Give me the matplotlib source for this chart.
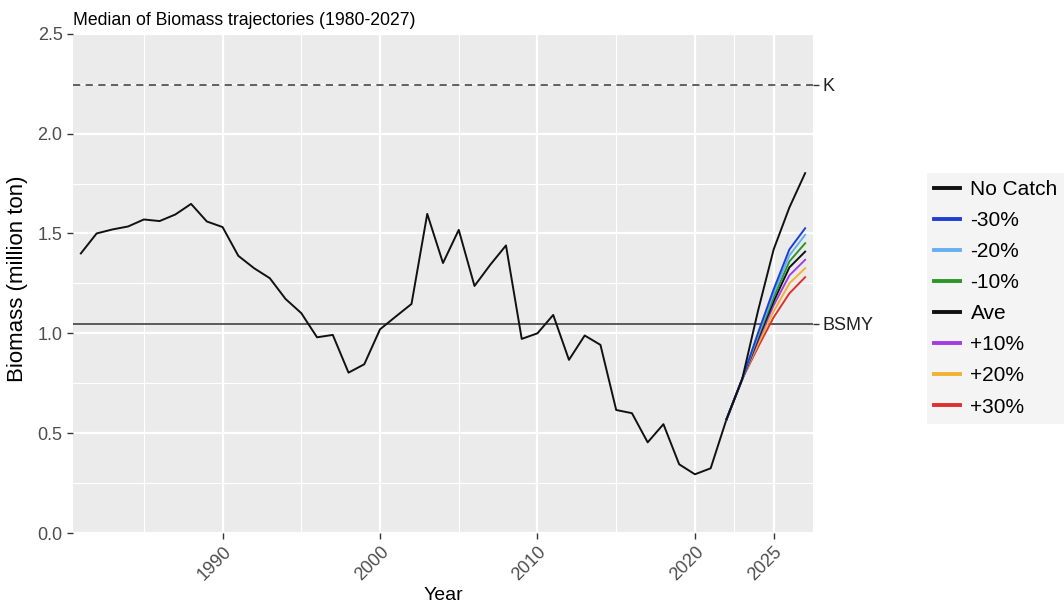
import matplotlib
matplotlib.use("Agg")
import matplotlib.pyplot as plt

plt.rcParams['font.family'] = ['Liberation Sans', 'DejaVu Sans']

# historical median biomass (million ton)
years_hist = list(range(1981, 2023))
biomass_hist = [1.40, 1.50, 1.52, 1.535, 1.57, 1.562, 1.595, 1.648, 1.56, 1.532,
                1.388, 1.326, 1.276, 1.172, 1.101, 0.98, 0.992, 0.803, 0.845, 1.02,
                1.084, 1.147, 1.598, 1.352, 1.518, 1.237, 1.343, 1.44, 0.972, 1.0,
                1.092, 0.867, 0.989, 0.942, 0.616, 0.60, 0.454, 0.545, 0.344, 0.294,
                0.324, 0.568]

# projections by catch scenario
years_proj = [2022, 2023, 2024, 2025, 2026, 2027]
scenarios = ["No Catch", "-30%", "-20%", "-10%", "Ave", "+10%", "+20%", "+30%"]
proj_values = {
    "No Catch": [0.568, 0.77, 1.11, 1.42, 1.63, 1.802],
    "-30%":     [0.568, 0.77, 1.00, 1.22, 1.42, 1.526],
    "-20%":     [0.568, 0.77, 0.99, 1.20, 1.39, 1.493],
    "-10%":     [0.568, 0.77, 0.98, 1.18, 1.36, 1.451],
    "Ave":      [0.568, 0.77, 0.97, 1.16, 1.33, 1.409],
    "+10%":     [0.568, 0.77, 0.96, 1.14, 1.29, 1.368],
    "+20%":     [0.568, 0.77, 0.945, 1.11, 1.25, 1.326],
    "+30%":     [0.568, 0.77, 0.93, 1.08, 1.20, 1.281],
}
colors = ["#111111", "#1f3ed6", "#66b0f2", "#2a962a", "#111111",
          "#a23de0", "#f2b232", "#e0302e"]

K = 2.245
BSMY = 1.047

fig = plt.figure(figsize=(10.64, 6.05), dpi=100)
ax = fig.add_axes([0.0686, 0.119, 0.6955, 0.8252])
ax.set_facecolor('#EBEBEB')

# grid, ggplot style
for x in [1985, 1995, 2005, 2015, 2022.5]:
    ax.axvline(x, color='white', lw=0.8, zorder=0.5)
for y in [0.25, 0.75, 1.25, 1.75, 2.25]:
    ax.axhline(y, color='white', lw=0.8, zorder=0.5)
ax.grid(True, color='white', lw=1.6, zorder=0.6)
ax.set_axisbelow(True)

ax.plot(years_hist, biomass_hist, color='#111111', lw=1.4, zorder=3)
for name, col in reversed(list(zip(scenarios, colors))):
    ax.plot(years_proj, proj_values[name], color=col, lw=1.4, zorder=3)

ax.axhline(K, color='#555555', lw=1.3, ls=(0, (4, 3)), zorder=2)
ax.axhline(BSMY, color='#333333', lw=1.3, alpha=0.85, zorder=2)

ax.set_xlim(1980.5, 2027.5)
ax.set_ylim(0, 2.5)
ax.set_xticks([1990, 2000, 2010, 2020, 2025])
ax.set_yticks([0, 0.5, 1.0, 1.5, 2.0, 2.5])
ax.set_yticklabels(['0.0', '0.5', '1.0', '1.5', '2.0', '2.5'])
ax.tick_params(colors='#333333', labelcolor='#4D4D4D', labelsize=13, length=4, width=1)
plt.setp(ax.get_xticklabels(), rotation=45, ha='right', va='top', rotation_mode='anchor')
for s in ax.spines.values():
    s.set_visible(False)

ax.set_xlabel('Year', fontsize=14, labelpad=2)
ax.set_ylabel('Biomass (million ton)', fontsize=16)
ax.yaxis.set_label_coords(-0.061, 0.51)
ax.set_title('Median of Biomass trajectories (1980-2027)', fontsize=12.7, loc='left', pad=6)

# reference labels on the right
ax2 = ax.twinx()
ax2.set_ylim(0, 2.5)
ax2.set_yticks([BSMY, K])
ax2.set_yticklabels(['BSMY', 'K'])
ax2.tick_params(colors='#333333', labelcolor='#222222', labelsize=13, length=4, width=1, pad=2.5)
for s in ax2.spines.values():
    s.set_visible(False)

handles = [plt.Line2D([], [], color=c, lw=2.8) for c in colors]
leg = fig.legend(handles, scenarios, loc='center left', bbox_to_anchor=(0.871, 0.507),
                 fontsize=15, frameon=True, facecolor='#F2F2F2', edgecolor='none',
                 fancybox=False, handlelength=1.25, handletextpad=0.5,
                 labelspacing=0.58, borderpad=0.35, borderaxespad=0)
leg.get_frame().set_linewidth(0)

fig.savefig('out.png', dpi=100)
